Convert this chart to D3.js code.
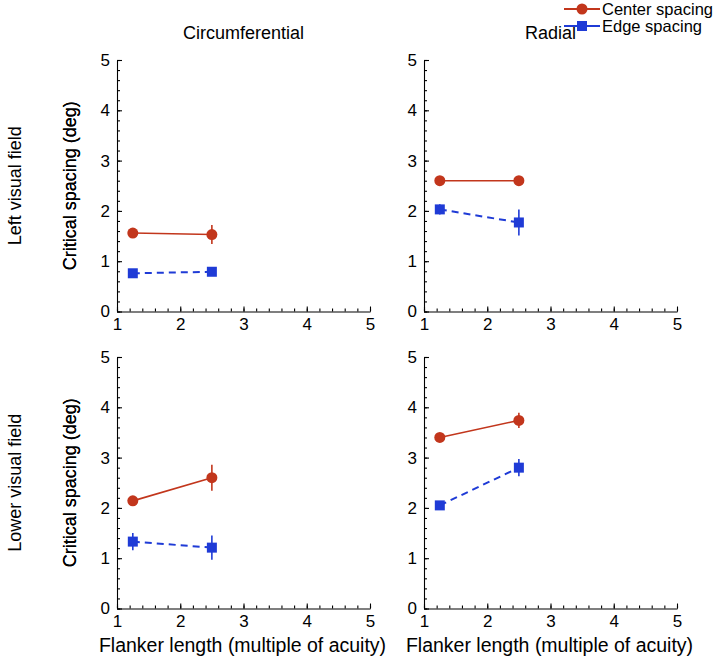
<!DOCTYPE html>
<html>
<head>
<meta charset="utf-8">
<script src="https://cdn.jsdelivr.net/npm/d3@7"></script>
<style>
  body { margin: 0; background: #fff; }
  svg { display: block; font-family: "Liberation Sans", Arial, Helvetica, sans-serif; }
</style>
</head>
<body>
<svg id="chart" width="715" height="659"></svg>
<script>
// ---- data ----
const rowLabels = ["Left visual field", "Lower visual field"];
const colLabels = ["Circumferential", "Radial"];
const flankerLength = [1.25, 2.5];
// panels in order: [row0col0, row0col1, row1col0, row1col1]
const centerSpacing = [[1.56, 1.53], [2.60, 2.60], [2.14, 2.60], [3.40, 3.74]];
const centerErr     = [[0.04, 0.19], [0.05, 0.07], [0.04, 0.26], [0.05, 0.15]];
const edgeSpacing   = [[0.76, 0.79], [2.03, 1.77], [1.33, 1.21], [2.05, 2.80]];
const edgeErr       = [[0.03, 0.05], [0.10, 0.26], [0.17, 0.24], [0.04, 0.17]];
const seriesNames = ["Center spacing", "Edge spacing"];
const xTicks = [1, 2, 3, 4, 5];
const yTicks = [0, 1, 2, 3, 4, 5];
const xLabel = "Flanker length (multiple of acuity)";
const yLabel = "Critical spacing (deg)";

// ---- layout ----
const colX = [[117, 370], [424, 677]];
const rowY = [[311.5, 60], [608.5, 357]];
const red = "#c2361c", blue = "#1f3bd6";
const svg = d3.select("#chart");

const minorVals = d3.range(0, 5.001, 0.2).map(v => +v.toFixed(1));
const minorX = d3.range(1, 5.001, 0.2).map(v => +v.toFixed(1));

for (let r = 0; r < 2; r++) {
  for (let c = 0; c < 2; c++) {
    const idx = r * 2 + c;
    const x = d3.scaleLinear().domain([1, 5]).range(colX[c]);
    const y = d3.scaleLinear().domain([0, 5]).range(rowY[r]);
    const g = svg.append("g");

    // minor ticks
    g.append("g").attr("transform", `translate(0,${y(0)})`)
      .call(d3.axisBottom(x).tickValues(minorX).tickFormat("").tickSize(-3).tickSizeOuter(0))
      .call(s => s.select(".domain").remove());
    g.append("g").attr("transform", `translate(${x(1)},0)`)
      .call(d3.axisLeft(y).tickValues(minorVals).tickFormat("").tickSize(-3).tickSizeOuter(0))
      .call(s => s.select(".domain").remove());
    // major axes
    g.append("g").attr("transform", `translate(0,${y(0)})`)
      .call(d3.axisBottom(x).tickValues(xTicks).tickFormat(d3.format("d")).tickSize(-5).tickSizeOuter(0).tickPadding(6));
    g.append("g").attr("transform", `translate(${x(1)},0)`)
      .call(d3.axisLeft(y).tickValues(yTicks).tickFormat(d3.format("d")).tickSize(-5).tickSizeOuter(0).tickPadding(7));
    g.selectAll(".tick text").attr("font-size", 17).attr("fill", "#000").attr("font-family", "Liberation Sans, Arial, sans-serif");
    g.selectAll("path.domain, .tick line").attr("stroke", "#000").attr("stroke-width", 1.1);

    // series
    const series = [
      { vals: centerSpacing[idx], err: centerErr[idx], color: red, dash: null, shape: "circle" },
      { vals: edgeSpacing[idx], err: edgeErr[idx], color: blue, dash: "7,5", shape: "square" }
    ];
    series.forEach(s => {
      const pts = flankerLength.map((fx, i) => ({ x: fx, y: s.vals[i], e: s.err[i] }));
      g.append("path").datum(pts)
        .attr("d", d3.line().x(d => x(d.x)).y(d => y(d.y)))
        .attr("fill", "none").attr("stroke", s.color)
        .attr("stroke-width", s.dash ? 2 : 1.6)
        .attr("stroke-dasharray", s.dash);
      g.selectAll(null).data(pts).enter().append("line")
        .attr("x1", d => x(d.x)).attr("x2", d => x(d.x))
        .attr("y1", d => y(d.y - d.e)).attr("y2", d => y(d.y + d.e))
        .attr("stroke", s.color).attr("stroke-width", 1.6);
      if (s.shape === "circle") {
        g.selectAll(null).data(pts).enter().append("circle")
          .attr("cx", d => x(d.x)).attr("cy", d => y(d.y)).attr("r", 5.5).attr("fill", s.color);
      } else {
        g.selectAll(null).data(pts).enter().append("rect")
          .attr("x", d => x(d.x) - 5).attr("y", d => y(d.y) - 5)
          .attr("width", 10).attr("height", 10).attr("fill", s.color);
      }
    });

    // y label
    const ymid = (rowY[r][0] + rowY[r][1]) / 2;
    svg.append("text").attr("transform", `translate(76,${ymid}) rotate(-90)`)
      .attr("text-anchor", "middle").attr("font-size", 18).text(yLabel);
    // x label (bottom row only)
    if (r === 1) {
      svg.append("text").attr("x", (colX[c][0] + colX[c][1]) / 2 - 1).attr("y", 652)
        .attr("text-anchor", "middle").attr("font-size", 19.5).text(xLabel);
    }
  }
}

// column titles
colLabels.forEach((t, c) => {
  svg.append("text").attr("x", (colX[c][0] + colX[c][1]) / 2).attr("y", 39)
    .attr("text-anchor", "middle").attr("font-size", 18).text(t);
});
// row labels
rowLabels.forEach((t, r) => {
  const ymid = (rowY[r][0] + rowY[r][1]) / 2;
  svg.append("text").attr("transform", `translate(21,${ymid}) rotate(-90)`)
    .attr("text-anchor", "middle").attr("font-size", 18).text(t);
});

// legend
const legend = svg.append("g");
[{ name: seriesNames[0], color: red, shape: "circle", y: 9 },
 { name: seriesNames[1], color: blue, shape: "square", y: 26 }].forEach(l => {
  legend.append("line").attr("x1", 564).attr("x2", 600).attr("y1", l.y).attr("y2", l.y)
    .attr("stroke", l.color).attr("stroke-width", 2);
  if (l.shape === "circle") legend.append("circle").attr("cx", 582).attr("cy", l.y).attr("r", 5.5).attr("fill", l.color);
  else legend.append("rect").attr("x", 577).attr("y", l.y - 5).attr("width", 10).attr("height", 10).attr("fill", l.color);
  legend.append("text").attr("x", 602).attr("y", l.y + 5.5).attr("font-size", 16.5).text(l.name);
});
</script>
</body>
</html>
